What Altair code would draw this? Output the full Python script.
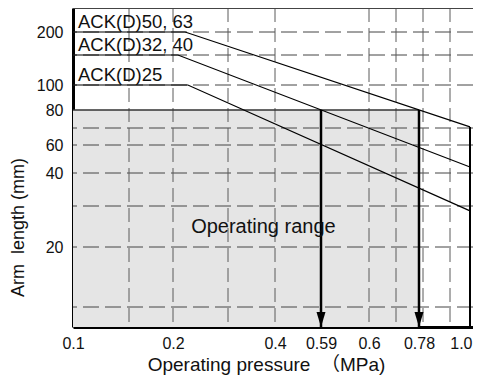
import altair as alt
import pandas as pd

# ---- data ----
x_tick_values = [0.1, 0.2, 0.4, 0.59, 0.6, 0.78, 1.0]
y_tick_values = [20, 40, 60, 80, 100, 200]
x_grid = [0.15, 0.2, 0.3, 0.4, 0.6, 0.7, 0.8, 0.9]
y_grid = [10, 20, 30, 40, 60, 70, 100, 150, 200]

series_names = ["ACK(D)50, 63", "ACK(D)32, 40", "ACK(D)25"]
series_x = [[0.1, 0.222, 1.0], [0.1, 0.209, 1.0], [0.1, 0.227, 1.0]]
series_y = [[200, 200, 70.6], [150, 150, 44.3], [100, 100, 28.8]]

range_x = [0.1, 0.78]
range_top = 80
range_label = "Operating range"
range_label_pos = (0.233, 23.4)

arrow_x = [0.59, 0.78]
limit_x = 1.0
limit_top = 70.6

x_min, x_max = 0.1, 1.015
y_min, y_max = 5, 250

# ---- scales (piecewise, as the reference is not a true scale) ----
xscale = alt.Scale(
    domain=[x_min, 0.15, 0.2, 0.3, 0.4, 0.59, 0.6, 0.7, 0.78, 0.8, 0.9, 1.0, x_max],
    range=[0, 56, 100, 155, 202, 248, 296, 323, 346, 350, 377, 397, 400],
    nice=False, zero=False,
)
yscale = alt.Scale(
    domain=[y_min, 10, 20, 30, 40, 60, 70, 80, 100, 150, 200, y_max],
    range=[319, 299, 239, 198, 165, 137, 120, 102, 77, 47, 24, 0],
    nice=False, zero=False,
)

FONT = "Liberation Sans, Arial, Noto Sans CJK SC, sans-serif"

# ---- tables ----
lines_df = pd.DataFrame(
    [
        {"x": xv, "y": yv, "series": name, "order": i}
        for name, xs, ys in zip(series_names, series_x, series_y)
        for i, (xv, yv) in enumerate(zip(xs, ys))
    ]
)
labels_df = pd.DataFrame(
    {"x": [x_min] * 3, "y": [ys[0] for ys in series_y], "label": series_names}
)
hgrid_df = pd.DataFrame({"y": y_grid})
vgrid_df = pd.DataFrame({"x": x_grid})
rect_df = pd.DataFrame({"x": [range_x[0]], "x2": [range_x[1]], "y": [y_min], "y2": [range_top]})
edge_df = pd.DataFrame({"x": [range_x[0]], "x2": [range_x[1]], "y": [range_top]})
arrows_df = pd.DataFrame({"x": arrow_x, "y": [y_min] * len(arrow_x), "y2": [range_top] * len(arrow_x)})
limit_df = pd.DataFrame({"x": [limit_x], "y": [y_min], "y2": [limit_top]})
top_df = pd.DataFrame({"y": [y_max]})
range_text_df = pd.DataFrame({"x": [range_label_pos[0]], "y": [range_label_pos[1]], "label": [range_label]})

X = lambda: alt.X("x:Q", scale=xscale)
Y = lambda: alt.Y("y:Q", scale=yscale)

shade = alt.Chart(rect_df).mark_rect(color="#e5e5e5").encode(
    x=alt.X(
        "x:Q", scale=xscale,
        axis=alt.Axis(
            values=x_tick_values, title="Operating pressure \u00a0（MPa)", grid=False,
            ticks=False, labelPadding=8, labelFontSize=16, labelColor="#111",
            labelExpr="datum.value == 1 ? '1.0' : toString(datum.value)",
            labelAlign={"condition": {"test": "datum.value == 1", "value": "right"}, "value": "center"},
            labelOffset={"condition": {"test": "datum.value == 1", "value": 2}, "value": 0},
            domainColor="#000", domainWidth=3,
            titleFontSize=19, titleFontWeight="normal", titleColor="#111",
            titleX=193, titleY=43, titleBaseline="alphabetic", titleAlign="center",
            labelFlush=False, labelOverlap=False,
        ),
    ),
    x2="x2:Q",
    y=alt.Y(
        "y:Q", scale=yscale,
        axis=alt.Axis(
            values=y_tick_values, title="Arm \u00a0length (mm)", grid=False,
            ticks=False, labelPadding=10, labelFontSize=16, labelColor="#111",
            domainColor="#000", domainWidth=3,
            titleFontSize=18, titleFontWeight="normal", titleColor="#111",
            titleX=-55, titleY=219, titleAngle=-90, titleAlign="center",
            titleBaseline="middle", labelOverlap=False, labelFlush=False,
        ),
    ),
    y2="y2:Q",
)

hgrid = alt.Chart(hgrid_df).mark_rule(color="#444", strokeWidth=1, strokeDash=[16, 6]).encode(y=Y())
vgrid = alt.Chart(vgrid_df).mark_rule(color="#5a5a5a", strokeWidth=1, strokeDash=[14, 6]).encode(x=X())
top = alt.Chart(top_df).mark_rule(color="#444", strokeWidth=2).encode(y=Y())

range_edge = alt.Chart(edge_df).mark_rule(color="#333", strokeWidth=1.5).encode(
    x=X(), x2="x2:Q", y=Y()
)

lines = alt.Chart(lines_df).mark_line(color="#000", strokeWidth=1.2).encode(
    x=X(), y=Y(), detail="series:N", order="order:Q"
)

arrows = alt.Chart(arrows_df).mark_rule(color="#000", strokeWidth=2.5).encode(x=X(), y=Y(), y2="y2:Q")
limit = alt.Chart(limit_df).mark_rule(color="#000", strokeWidth=2).encode(x=X(), y=Y(), y2="y2:Q")
heads = alt.Chart(arrows_df).mark_point(
    shape="M-0.6,-1L0.6,-1L0,1Z", size=225, filled=True, color="#000", opacity=1, yOffset=-7.5
).encode(x=X(), y=Y())

labels = alt.Chart(labels_df).mark_text(
    align="left", baseline="alphabetic", dx=5, dy=-4, fontSize=18.5, font=FONT, color="#111"
).encode(x=X(), y=Y(), text="label:N")

range_text = alt.Chart(range_text_df).mark_text(
    align="left", baseline="alphabetic", fontSize=20, font=FONT, color="#111"
).encode(x=X(), y=Y(), text="label:N")

chart = alt.layer(
    shade, hgrid, vgrid, top, range_edge, lines, arrows, limit, heads, labels, range_text
).properties(
    width=400, height=319,
    autosize=alt.AutoSizeParams(type="none"),
    padding={"left": 65, "top": 0, "right": 0, "bottom": 48},
).configure_view(stroke=None).configure_axis(labelFont=FONT, titleFont=FONT)

chart.save("out.html", embed_options={"renderer": "svg", "actions": False})
